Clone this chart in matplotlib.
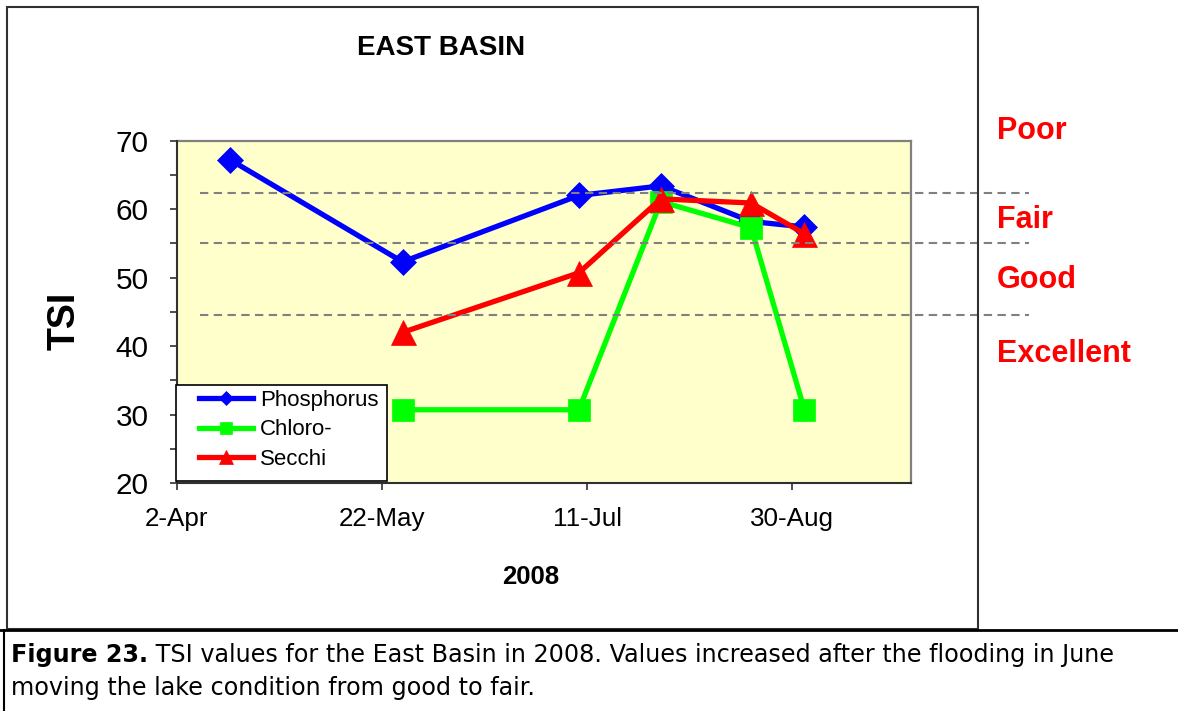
import matplotlib
matplotlib.use('Agg')
import matplotlib.pyplot as plt
import matplotlib.dates as mdates
from matplotlib.lines import Line2D
from matplotlib.patches import Rectangle
import datetime as dt

# ---------------- data ----------------
phos_dates = ['2008-04-15', '2008-05-27', '2008-07-09', '2008-07-29', '2008-08-20', '2008-09-02']
phosphorus = [67.2, 52.3, 62.0, 63.4, 58.2, 57.4]
chl_dates = ['2008-05-27', '2008-07-09', '2008-07-29', '2008-08-20', '2008-09-02']
chlorophyll = [30.7, 30.7, 61.1, 57.3, 30.7]
secchi_dates = ['2008-05-27', '2008-07-09', '2008-07-29', '2008-08-20', '2008-09-02']
secchi = [42.0, 50.7, 61.5, 60.9, 56.4]

xtick_dates = ['2008-04-02', '2008-05-22', '2008-07-11', '2008-08-30']
xtick_labels = ['2-Apr', '22-May', '11-Jul', '30-Aug']
x_min, x_max = '2008-04-02', '2008-09-28'
yticks = [20, 30, 40, 50, 60, 70]
yminor = [25, 35, 45, 55, 65]

thresholds = [62.3, 55.0, 44.6]
conditions = ['Poor', 'Fair', 'Good', 'Excellent']
series_labels = ['Phosphorus', 'Chloro-', 'Secchi']

title = 'EAST BASIN'
ylabel = 'TSI'
xlabel = '2008'
caption_bold = 'Figure 23.'
caption_rest = ' TSI values for the East Basin in 2008. Values increased after the flooding in June'
caption_line2 = 'moving the lake condition from good to fair.'


def d(s):
    return mdates.date2num(dt.datetime.strptime(s, '%Y-%m-%d'))


W, H = 1178, 711
fig = plt.figure(figsize=(W / 100, H / 100), dpi=100)


def fx(x):
    return x / W


def fy(y):
    return 1 - y / H


FONT = 'Liberation Sans'
CAPFONT = 'DejaVu Sans'
ax = fig.add_axes([fx(177), fy(483), fx(911) - fx(177), fy(140.7) - fy(483)])
ax.set_facecolor('#FFFFCC')

l1, = ax.plot([d(s) for s in phos_dates], phosphorus, color='#0000FF', lw=3.8,
              marker='D', ms=13, mec='#0000FF', mew=0.5, label=series_labels[0],
              zorder=3, clip_on=False)
l2, = ax.plot([d(s) for s in chl_dates], chlorophyll, color='#00FF00', lw=3.8,
              marker='s', ms=16.5, mec='#00FF00', mew=0.5, label=series_labels[1],
              zorder=4, clip_on=False)
l3, = ax.plot([d(s) for s in secchi_dates], secchi, color='#FF0000', lw=3.8,
              marker='^', ms=18, mec='#FF0000', mew=0.5, label=series_labels[2],
              zorder=5, clip_on=False)

ax.set_xlim(d(x_min), d(x_max))
ax.set_ylim(20, 70)
ax.set_xticks([d(s) for s in xtick_dates], xtick_labels)
ax.set_yticks(yticks)
ax.set_yticks(yminor, minor=True)

for s in ['top', 'right']:
    ax.spines[s].set_color('#808080')
    ax.spines[s].set_linewidth(1.6)
for s in ['left', 'bottom']:
    ax.spines[s].set_color('#303030')
    ax.spines[s].set_linewidth(1.5)
    ax.spines[s].set_zorder(7)

ax.tick_params(axis='y', which='both', direction='out', length=5, width=1.2,
               color='#303030', labelsize=21.4, pad=15.5)
ax.tick_params(axis='x', which='both', direction='out', length=5, width=1.2,
               color='#303030', labelsize=18.7, pad=12)
for t in ax.get_yticklabels() + ax.get_xticklabels():
    t.set_fontfamily(FONT)

# threshold dashed lines (extend beyond plot area)
for v in thresholds:
    ax.plot([0.031, 1.161], [v, v], transform=ax.get_yaxis_transform(),
            clip_on=False, color='#808080', lw=1.5, ls=(0, (4, 2.6)), zorder=6)

# legend box and legend
ax.add_patch(Rectangle((fx(176), fy(481)), fx(387) - fx(176), fy(385) - fy(481),
                       transform=fig.transFigure, fc='white', ec='black', lw=1.2,
                       zorder=8, clip_on=False))
leg = ax.legend(handles=[l1, l2, l3], loc='upper left',
                bbox_to_anchor=(fx(199), fy(390)), bbox_transform=fig.transFigure,
                frameon=False, borderpad=0, borderaxespad=0, handlelength=2.45,
                handletextpad=0.28, labelspacing=0.38, markerscale=0.55,
                prop={'family': FONT, 'size': 16})
leg.set_zorder(9)

# frame and caption box
fig.add_artist(Rectangle((fx(7), fy(629)), fx(978) - fx(7), fy(7) - fy(629),
                         transform=fig.transFigure, fill=False, ec='#303030', lw=1.5))
fig.add_artist(Line2D([0, 1], [fy(630), fy(630)], transform=fig.transFigure,
                      color='black', lw=2))
fig.add_artist(Line2D([fx(4), fx(4)], [fy(630), 0], transform=fig.transFigure,
                      color='black', lw=1.5))

# texts
fig.text(fx(441), fy(55), title, ha='center', va='baseline', fontsize=20,
         fontweight='bold', family=FONT)
fig.text(fx(75), fy(321), ylabel, rotation=90, rotation_mode='anchor', ha='center',
         va='baseline', fontsize=27, fontweight='bold', family=FONT)
fig.text(fx(531), fy(584), xlabel, ha='center', va='baseline', fontsize=18.5,
         fontweight='bold', family=FONT)

cond_y = [139, 227.7, 287.7, 361.7]
for lab, yy in zip(conditions, cond_y):
    fig.text(fx(997), fy(yy), lab, ha='left', va='baseline', fontsize=22,
             fontweight='bold', color='#FF0000', family=FONT)

cap_fs = 17.2
t1 = fig.text(fx(11), fy(662), caption_bold, ha='left', va='baseline', fontsize=cap_fs,
              fontweight='bold', family=CAPFONT)
ax.annotate(caption_rest, xy=(1, 0), xycoords=t1, ha='left', va='bottom',
            fontsize=cap_fs, family=CAPFONT, annotation_clip=False)
fig.text(fx(11), fy(695), caption_line2, ha='left', va='baseline', fontsize=cap_fs,
         family=CAPFONT)

fig.savefig('out.png', dpi=100)
